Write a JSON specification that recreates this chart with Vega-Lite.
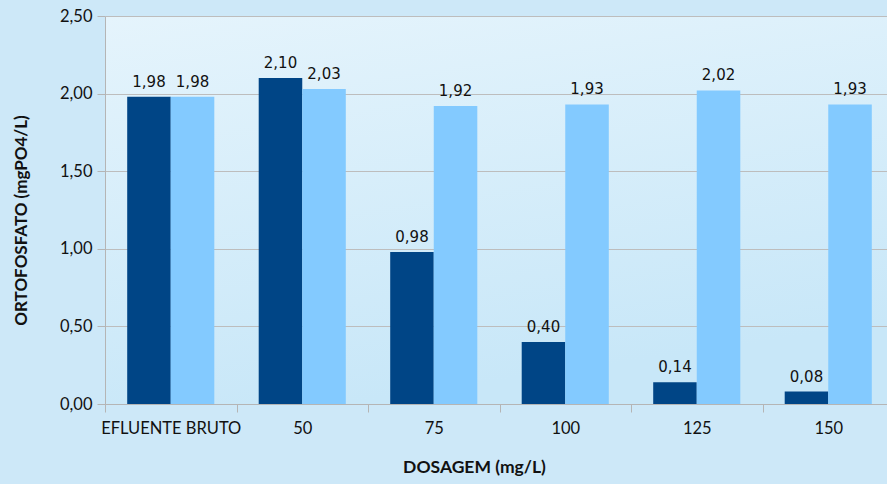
{
  "$schema": "https://vega.github.io/schema/vega-lite/v6.json",
  "autosize": {"type": "none"},
  "width": 789,
  "height": 388,
  "padding": {"left": 105, "top": 16, "right": 0, "bottom": 80},
  "background": "#cde8f8",
  "config": {
    "locale": {"number": {"decimal": ",", "thousands": ".", "grouping": [3], "currency": ["R$", ""]}},
    "view": {
      "stroke": null,
      "fill": {
        "gradient": "linear", "x1": 0, "y1": 0, "x2": 0.3, "y2": 1,
        "stops": [{"offset": 0, "color": "#e5f4fc"}, {"offset": 1, "color": "#c8e7f8"}]
      }
    },
    "font": "Lato",
    "axis": {"labelFont": "Lato", "titleFont": "Lato"}
  },
  "data": {
    "values": [
      {"dosagem": "EFLUENTE BRUTO", "serie": "Série 1", "valor": 1.98},
      {"dosagem": "EFLUENTE BRUTO", "serie": "Série 2", "valor": 1.98},
      {"dosagem": "50", "serie": "Série 1", "valor": 2.10},
      {"dosagem": "50", "serie": "Série 2", "valor": 2.03},
      {"dosagem": "75", "serie": "Série 1", "valor": 0.98},
      {"dosagem": "75", "serie": "Série 2", "valor": 1.92},
      {"dosagem": "100", "serie": "Série 1", "valor": 0.40},
      {"dosagem": "100", "serie": "Série 2", "valor": 1.93},
      {"dosagem": "125", "serie": "Série 1", "valor": 0.14},
      {"dosagem": "125", "serie": "Série 2", "valor": 2.02},
      {"dosagem": "150", "serie": "Série 1", "valor": 0.08},
      {"dosagem": "150", "serie": "Série 2", "valor": 1.93}
    ]
  },
  "encoding": {
    "x": {
      "field": "dosagem", "type": "nominal", "sort": null,
      "scale": {"paddingInner": 0, "paddingOuter": 0},
      "axis": {
        "title": "DOSAGEM (mg/L)", "labelAngle": 0, "tickBand": "extent",
        "labelFontSize": 16.5, "labelColor": "#111111", "labelPadding": 8,
        "tickSize": 8, "tickColor": "#b5b5b5", "domainColor": "#b5b5b5",
        "titleFontSize": 17.5, "titleFontWeight": "bold", "titleColor": "#111111",
        "titlePadding": 22, "titleX": 369, "titleAnchor": "middle"
      }
    },
    "xOffset": {
      "field": "serie", "type": "nominal",
      "scale": {"paddingInner": 0, "paddingOuter": 0.51}
    },
    "y": {
      "field": "valor", "type": "quantitative",
      "scale": {"domain": [0, 2.5]},
      "axis": {
        "title": "ORTOFOSFATO (mgPO4/L)", "values": [0, 0.5, 1, 1.5, 2, 2.5],
        "format": ".2f", "labelFontSize": 16.5, "labelColor": "#111111",
        "tickSize": 8, "tickColor": "#b5b5b5", "domainColor": "#b5b5b5",
        "gridColor": "#bdbdbd", "gridWidth": 1.2, "labelPadding": 5,
        "titleFontSize": 17, "titleFontWeight": "bold", "titleColor": "#111111",
        "titlePadding": 29, "titleY": 204
      }
    }
  },
  "layer": [
    {
      "mark": {"type": "bar"},
      "encoding": {
        "color": {
          "field": "serie", "type": "nominal",
          "scale": {"domain": ["Série 1", "Série 2"], "range": ["#004586", "#83caff"]},
          "legend": null
        }
      }
    },
    {
      "mark": {"type": "text", "baseline": "alphabetic", "dy": -10, "fontSize": 15, "color": "#111111", "font": "DejaVu Sans"},
      "encoding": {
        "text": {"field": "valor", "type": "quantitative", "format": ".2f"}
      }
    }
  ]
}
